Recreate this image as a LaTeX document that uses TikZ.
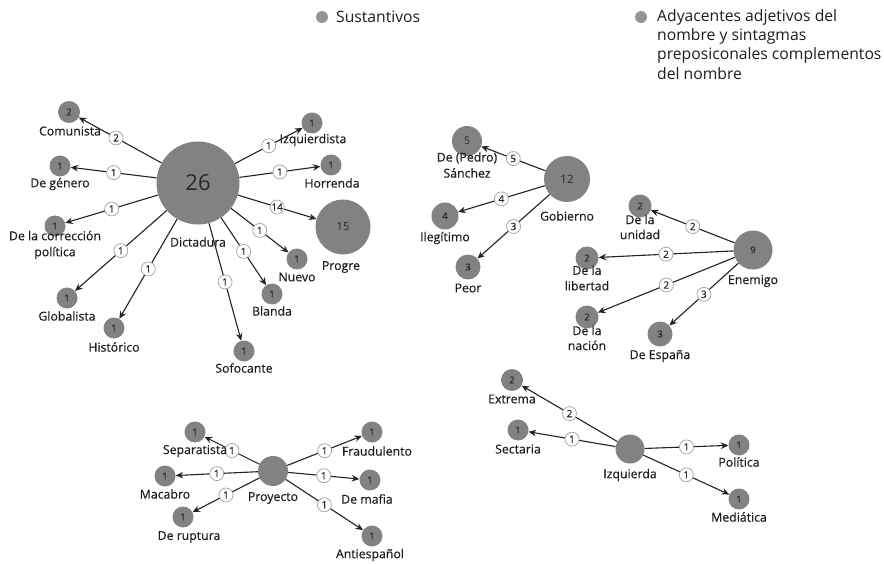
\documentclass[tikz,border=0pt]{standalone}
\usepackage{fontspec}
\setmainfont{Open Sans}
\newfontfamily\lblfont{Open Sans}[FakeBold=0.35]
\usetikzlibrary{arrows.meta}
\definecolor{nodegray}{RGB}{130,130,130}
\definecolor{edgecol}{RGB}{35,35,35}
\definecolor{labtext}{RGB}{30,30,30}
\definecolor{numtext}{RGB}{40,40,40}
\definecolor{wlborder}{RGB}{160,160,160}
\tikzset{
  nd/.style={circle, fill=nodegray, inner sep=0pt, text=numtext, minimum size=#1, font=\lblfont\fontsize{9.5}{9.5}\selectfont},
  nd/.default=21pt,
  lbl/.style={font=\lblfont\fontsize{12.3}{16}\selectfont, text=labtext, align=center, inner sep=0pt},
  edge/.style={draw=edgecol, line width=1.1pt, -{Stealth[length=7.5pt,width=6.5pt]}},
  wl/.style={circle, draw=wlborder, line width=0.7pt, fill=white, inner sep=0pt, minimum size=14pt, text=numtext, font=\lblfont\fontsize{10}{10}\selectfont},
  legdot/.style={circle, fill=nodegray!85, inner sep=0pt, minimum size=12pt},
  legtext/.style={font=\fontsize{15.7}{19.2}\selectfont, text=labtext, align=left, inner sep=0pt}
}
\begin{document}
\begin{tikzpicture}[x=1pt, y=-1pt]
\useasboundingbox (0,0) rectangle (884,564);
\fill[white] (0,0) rectangle (884,564);

% ---------------- Legend
\node[legdot] (ld1) at (322,17) {};
\node[legtext, anchor=west] (lt1) at (336,17) {Sustantivos};
\node[legdot] (ld2) at (641,17) {};
\node[legtext, anchor=west] (lt2) at (657,44.5) {Adyacentes adjetivos del\\nombre y sintagmas\\preposiconales complementos\\del nombre};

% ---------------- Dictadura cluster
\node[nd=83pt, font=\fontsize{22}{22}\selectfont] (D) at (198,183) {26};
\node[nd=22pt] (com) at (69,112) {2};
\node[nd] (gen) at (60,166) {1};
\node[nd] (cor) at (55,226) {1};
\node[nd] (glo) at (67,298) {1};
\node[nd] (his) at (114,328) {1};
\node[nd] (sof) at (244,351) {1};
\node[nd] (bla) at (272,294) {1};
\node[nd] (nue) at (297,259) {1};
\node[nd=55pt, font=\fontsize{11}{11}\selectfont] (pro) at (343,227) {15};
\node[nd] (hor) at (331,165) {1};
\node[nd] (izq) at (312,123) {1};

\draw[edge] (D) -- node[wl, pos=0.55]{2} (com);
\draw[edge] (D) -- node[wl]{1} (gen);
\draw[edge] (D) -- node[wl]{1} (cor);
\draw[edge] (D) -- node[wl]{1} (glo);
\draw[edge] (D) -- node[wl]{1} (his);
\draw[edge] (D) -- node[wl]{1} (sof);
\draw[edge] (D) -- node[wl]{1} (bla);
\draw[edge] (D) -- node[wl]{1} (nue);
\draw[edge] (D) -- node[wl]{14} (pro);
\draw[edge] (D) -- node[wl]{1} (hor);
\draw[edge] (D) -- node[wl]{1} (izq);

\node[lbl] (Dl) at (198,242) {Dictadura};
\node[lbl] (coml) at (70,131) {Comunista};
\node[lbl] (genl) at (60,184) {De género};
\node[lbl] (corl) at (55,245) {De la corrección\\política};
\node[lbl] (glol) at (67,316) {Globalista};
\node[lbl] (hisl) at (114,347) {Histórico};
\node[lbl] (sofl) at (244,368) {Sofocante};
\node[lbl] (blal) at (272,311) {Blanda};
\node[lbl] (nuel) at (297,277) {Nuevo};
\node[lbl] (prol) at (341,267) {Progre};
\node[lbl] (horl) at (332,183) {Horrenda};
\node[lbl] (izql) at (313,140) {Izquierdista};

% ---------------- Gobierno cluster
\node[nd=46pt, font=\fontsize{11.5}{11.5}\selectfont] (G) at (567,179) {12};
\node[nd=30pt, font=\fontsize{10.5}{10.5}\selectfont] (san) at (467,141) {5};
\node[nd=27pt] (ile) at (445,216) {4};
\node[nd=25pt] (peo) at (468,267) {3};

\draw[edge] (G) -- node[wl]{5} (san);
\draw[edge] (G) -- node[wl]{4} (ile);
\draw[edge] (G) -- node[wl]{3} (peo);

\node[lbl] (Gl) at (567,216) {Gobierno};
\node[lbl] (sanl) at (467,165) {De (Pedro)\\Sánchez};
\node[lbl] (ilel) at (445,238) {Ilegítimo};
\node[lbl] (peol) at (468,288) {Peor};

% ---------------- Enemigo cluster
\node[nd=39pt] (E) at (753,250) {9};
\node[nd=23pt] (uni) at (640,206) {2};
\node[nd=23pt] (lib) at (587,258) {2};
\node[nd=23pt] (nac) at (587,317) {2};
\node[nd=25pt] (esp) at (660,334) {3};

\draw[edge] (E) -- node[wl]{2} (uni);
\draw[edge] (E) -- node[wl]{2} (lib);
\draw[edge] (E) -- node[wl]{2} (nac);
\draw[edge] (E) -- node[wl]{3} (esp);

\node[lbl] (El) at (753,281) {Enemigo};
\node[lbl, font=\lblfont\fontsize{12.3}{15}\selectfont] (unil) at (640,227) {De la\\unidad};
\node[lbl, font=\lblfont\fontsize{12.3}{15.5}\selectfont] (libl) at (587,278) {De la\\libertad};
\node[lbl, font=\lblfont\fontsize{12.3}{15}\selectfont] (nacl) at (587,338) {De la\\nación};
\node[lbl] (espl) at (660,356) {De España};

% ---------------- Proyecto cluster
\node[nd=30pt, font=\fontsize{8}{8}\selectfont, text=numtext!60] (P) at (273,471) {6};
\node[nd] (sep) at (195,432) {1};
\node[nd] (mac) at (165,476) {1};
\node[nd] (rup) at (183,517) {1};
\node[nd] (fra) at (372,432) {1};
\node[nd] (maf) at (370,480) {1};
\node[nd] (ant) at (372,536) {1};

\draw[edge] (P) -- node[wl]{1} (sep);
\draw[edge] (P) -- node[wl]{1} (mac);
\draw[edge] (P) -- node[wl]{1} (rup);
\draw[edge] (P) -- node[wl]{1} (fra);
\draw[edge] (P) -- node[wl]{1} (maf);
\draw[edge] (P) -- node[wl]{1} (ant);

\node[lbl] (Pl) at (273,498) {Proyecto};
\node[lbl] (sepl) at (195,451) {Separatista};
\node[lbl] (macl) at (165,494) {Macabro};
\node[lbl] (rupl) at (189,537) {De ruptura};
\node[lbl] (fral) at (377,451) {Fraudulento};
\node[lbl] (mafl) at (367,499) {De mafia};
\node[lbl] (antl) at (370,555) {Antiespañol};

% ---------------- Izquierda cluster
\node[nd=29pt, font=\fontsize{7.5}{7.5}\selectfont, text=numtext!60] (I) at (630,449) {5};
\node[nd=22pt] (ext) at (512,380) {2};
\node[nd] (sec) at (518,430) {1};
\node[nd] (pol) at (739,445) {1};
\node[nd] (med) at (739,499) {1};

\draw[edge] (I) -- node[wl]{2} (ext);
\draw[edge] (I) -- node[wl]{1} (sec);
\draw[edge] (I) -- node[wl]{1} (pol);
\draw[edge] (I) -- node[wl]{1} (med);

\node[lbl] (Il) at (630,475) {Izquierda};
\node[lbl] (extl) at (512,399) {Extrema};
\node[lbl] (secl) at (518,449) {Sectaria};
\node[lbl] (poll) at (739,462) {Política};
\node[lbl] (medl) at (739,517) {Mediática};
\end{tikzpicture}
\end{document}
